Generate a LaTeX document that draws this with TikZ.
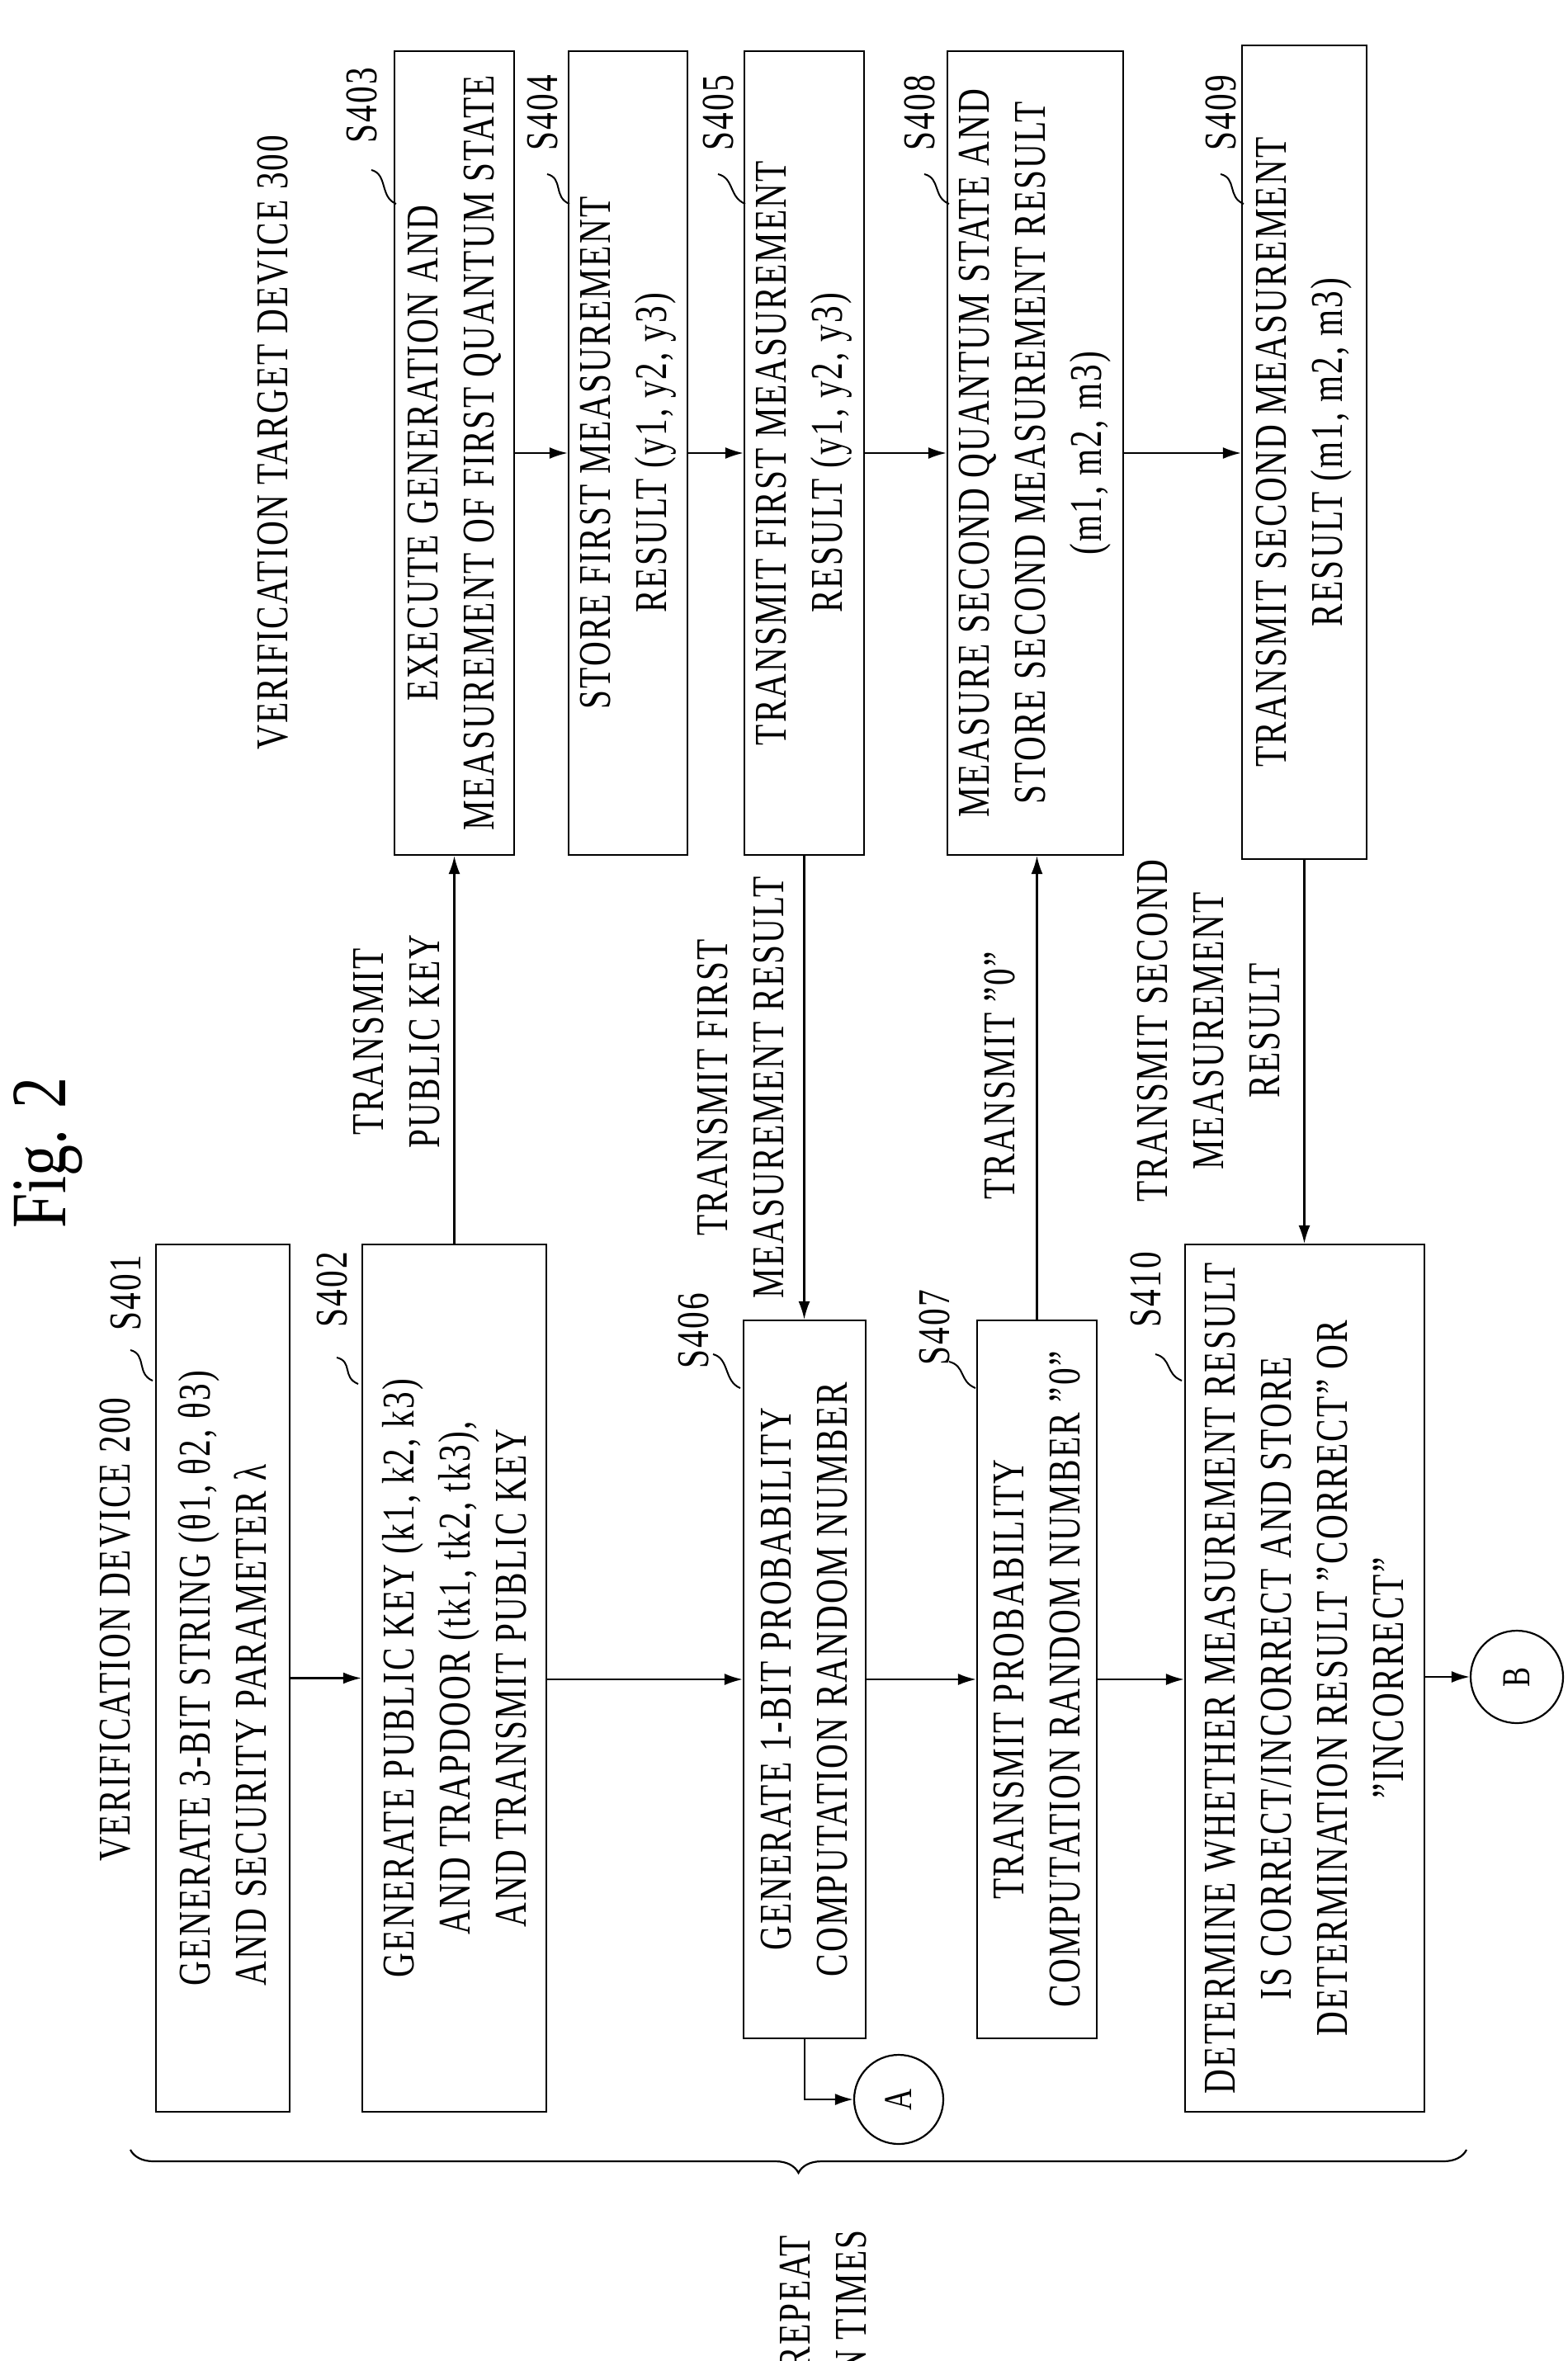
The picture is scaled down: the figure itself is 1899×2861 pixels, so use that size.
\documentclass[tikz,border=0pt]{standalone}
\usepackage{fontspec}
\setmainfont{Liberation Serif}[FakeStretch=0.75,LetterSpace=4]
\newfontfamily\figfont{Liberation Serif}[FakeStretch=0.8]
\usetikzlibrary{arrows.meta,decorations.pathreplacing}
\begin{document}
\begin{tikzpicture}[x=1pt,y=-1pt,
  box/.style={draw,line width=2.2pt,inner sep=0pt},
  txt/.style={rotate=90,align=center,font=\fontsize{55}{68}\selectfont,inner sep=0pt},
  lab/.style={rotate=90,font=\fontsize{55}{68}\selectfont,inner sep=0pt},
  arr/.style={line width=2.2pt,-{Latex[length=22pt,width=14pt]}},
  ln/.style={line width=2.2pt},
  lead/.style={line width=2pt}]
\useasboundingbox (0,0) rectangle (1899,2861);
\clip (0,0) rectangle (1899,2861);
% headings
\node[lab,font=\figfont\fontsize{95}{100}\selectfont] (fig) at (58,1397) {Fig. 2};
\node[lab] (vd) at (140,1975) {VERIFICATION DEVICE 200};
\node[lab] (vtd) at (331,536) {VERIFICATION TARGET DEVICE 300};
% verification device boxes
\node[box,minimum width=162pt,minimum height=1051pt] (s401) at (270,2033.5) {};
\node[txt,align=left] at (s401) {GENERATE 3-BIT STRING (θ1, θ2, θ3)\\AND SECURITY PARAMETER λ};
\node[box,minimum width=223pt,minimum height=1051pt] (s402) at (550.5,2033.5) {};
\node[txt] at (s402) {GENERATE PUBLIC KEY (k1, k2, k3)\\AND TRAPDOOR (tk1, tk2, tk3),\\AND TRANSMIT PUBLIC KEY};
\node[box,minimum width=148pt,minimum height=870pt] (s406) at (975,2035) {};
\node[txt] at (s406) {GENERATE 1-BIT PROBABILITY\\COMPUTATION RANDOM NUMBER};
\node[box,minimum width=145pt,minimum height=870pt] (s407) at (1256.5,2035) {};
\node[txt] at (s407) {TRANSMIT PROBABILITY\\COMPUTATION RANDOM NUMBER ”0”};
\node[box,minimum width=290pt,minimum height=1051pt] (s410) at (1581,2033.5) {};
\node[txt] at (s410) {DETERMINE WHETHER MEASUREMENT RESULT\\IS CORRECT/INCORRECT AND STORE\\DETERMINATION RESULT ”CORRECT” OR\\”INCORRECT”};
% target device boxes
\node[box,minimum width=145pt,minimum height=974pt] (s403) at (550.5,549) {};
\node[txt] at (s403) {EXECUTE GENERATION AND\\MEASUREMENT OF FIRST QUANTUM STATE};
\node[box,minimum width=144pt,minimum height=974pt] (s404) at (761,549) {};
\node[txt] at (s404) {STORE FIRST MEASUREMENT\\RESULT (y1, y2, y3)};
\node[box,minimum width=145pt,minimum height=974pt] (s405) at (974.5,549) {};
\node[txt] at (s405) {TRANSMIT FIRST MEASUREMENT\\RESULT (y1, y2, y3)};
\node[box,minimum width=213pt,minimum height=974pt] (s408) at (1254.5,549) {};
\node[txt] at (s408) {MEASURE SECOND QUANTUM STATE AND\\STORE SECOND MEASUREMENT RESULT\\(m1, m2, m3)};
\node[box,minimum width=151pt,minimum height=986pt] (s409) at (1580.5,548) {};
\node[txt] at (s409) {TRANSMIT SECOND MEASUREMENT\\RESULT (m1, m2, m3)};
% step labels
\foreach \n/\x/\y/\ax/\ay/\bx/\by in {S401/152/1567/158/1636/185/1673, S402/402/1563/408/1645/434/1677,
  S406/840/1613/864/1641/897/1682, S407/1132/1609/1150/1650/1182/1682, S410/1388/1563/1400/1641/1432/1673,
  S403/438/128/450/206/480/247, S404/657/137/663/211/690/247, S405/870/137/870/211/903/247,
  S408/1114/137/1120/211/1150/247, S409/1479/137/1479/211/1507/247}{
  \node[lab] (l\n) at (\x,\y) {\n};
  \coordinate (p\n) at (\bx,\by);
  \draw[lead] (\ax,\ay) .. controls (\ax+20,\ay+5) and (\bx-20,\by-8) .. (p\n);
}
% connectors
\draw[arr] (s401.east) -- (s402.west);
\draw[arr] (s402.east |- s406.west) -- (s406.west);
\draw[arr] (s406.east) -- (s407.west);
\draw[arr] (s407.east) -- (s410.west |- s407.east);
\node[draw,circle,line width=2.2pt,minimum size=112pt,inner sep=0pt] (b) at (1838,2032) {\rotatebox{90}{\fontsize{48}{50}\selectfont B}};
\node[draw,circle,line width=2.2pt,minimum size=108pt,inner sep=0pt] (a) at (1089,2544) {\rotatebox{90}{\fontsize{48}{50}\selectfont A}};
\draw[arr] (s410.east |- b.west) -- (b.west);
\draw[arr] (s406.south) |- (a.west);
\draw[arr] (s403.east) -- (s404.west);
\draw[arr] (s404.east) -- (s405.west);
\draw[arr] (s405.east) -- (s408.west);
\draw[arr] (s408.east) -- (s409.west |- s408.east);
\draw[arr] (s402.north) -- (s403.south);
\draw[arr] (s405.south) -- (s406.north -| s405.south);
\draw[arr] (s407.north) -- (s408.south -| s407.north);
\draw[arr] (s409.south) -- (s410.north -| s409.south);
% connector labels
\node[txt] (t1) at (481,1262) {TRANSMIT\\PUBLIC KEY};
\node[txt] (t2) at (898,1318) {TRANSMIT FIRST\\MEASUREMENT RESULT};
\node[txt] (t3) at (1211,1303) {TRANSMIT ”0”};
\node[txt] (t4) at (1465,1249) {TRANSMIT SECOND\\MEASUREMENT\\RESULT};
% brace
\coordinate (br1) at (1777,2605);
\coordinate (br2) at (158,2605);
\draw[ln,decorate,decoration={brace,amplitude=28pt}] (br1) -- (br2);
\node[txt] (rep) at (998,2790) {REPEAT\\N TIMES};
\end{tikzpicture}
\end{document}
